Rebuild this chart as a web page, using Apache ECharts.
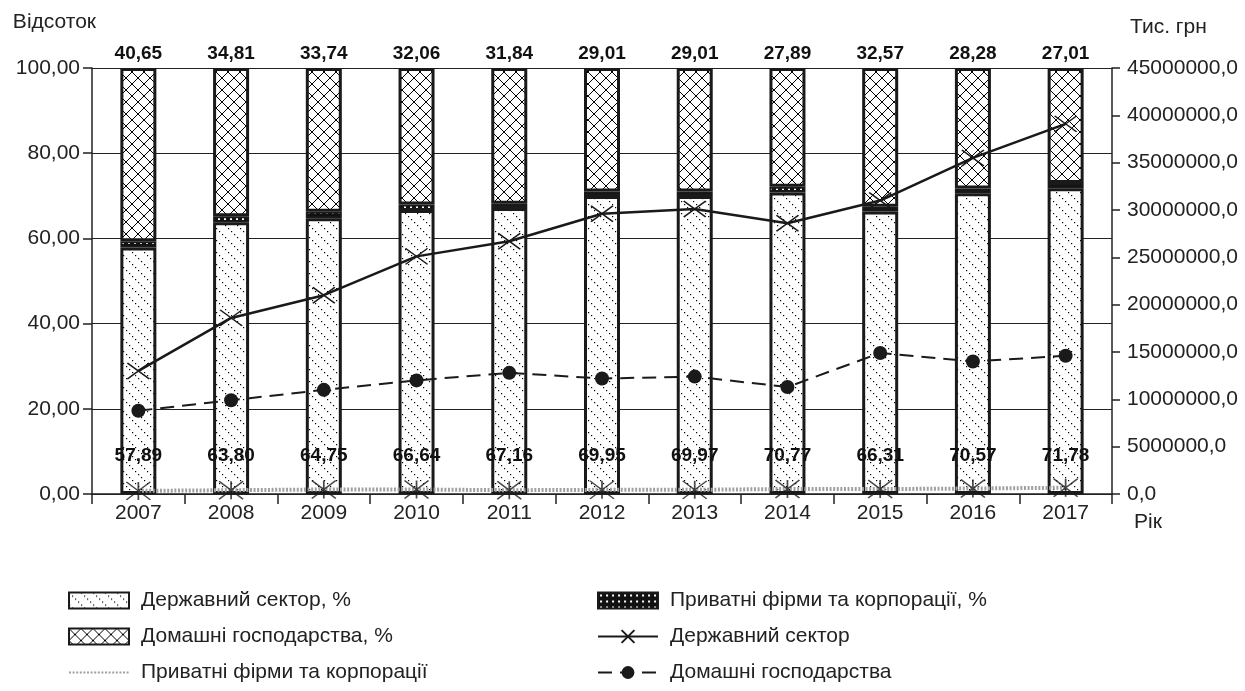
<!DOCTYPE html>
<html>
<head>
<meta charset="utf-8">
<script src="https://cdn.jsdelivr.net/npm/echarts@6/dist/echarts.min.js"></script>
<style>
  html, body { margin: 0; padding: 0; background: #fff; }
  #chart { width: 1245px; height: 691px; }
</style>
</head>
<body>
<div id="chart"></div>
<script>
// Years on the category axis
const years = ['2007', '2008', '2009', '2010', '2011', '2012', '2013', '2014', '2015', '2016', '2017'];

// Shares of R&D spending by source, %
const govShare = [57.89, 63.80, 64.75, 66.64, 67.16, 69.95, 69.97, 70.77, 66.31, 70.57, 71.78];
const privShare = [1.46, 1.39, 1.51, 1.30, 1.00, 1.04, 1.02, 1.34, 1.12, 1.15, 1.21];
const homeShare = [40.65, 34.81, 33.74, 32.06, 31.84, 29.01, 29.01, 27.89, 32.57, 28.28, 27.01];

// Spending by source, thousand UAH
const govAmount = [13000000, 18600000, 21000000, 25100000, 26700000, 29600000, 30100000, 28600000, 31000000, 35500000, 39100000];
const homeAmount = [8800000, 9900000, 11000000, 12000000, 12800000, 12200000, 12400000, 11300000, 14900000, 14000000, 14600000];
const privAmount = [330000, 400000, 480000, 480000, 400000, 440000, 440000, 530000, 520000, 580000, 660000];

const FONT = '"Liberation Sans", Arial, sans-serif';

// Fill patterns for the stacked bars
function makeTile(size, draw) {
  const c = document.createElement('canvas');
  c.width = size; c.height = size;
  const ctx = c.getContext('2d');
  ctx.fillStyle = '#fff';
  ctx.fillRect(0, 0, size, size);
  draw(ctx, size);
  return { image: c, repeat: 'repeat' };
}
// dotted diagonal lines
const dotDiag = makeTile(12, (ctx, s) => {
  ctx.fillStyle = '#000';
  for (let i = 0; i < s; i += 3) ctx.fillRect(i, i, 1.2, 1.2);
});
// diamond cross-hatch
const crossHatch = makeTile(12, (ctx, s) => {
  ctx.strokeStyle = '#000';
  ctx.lineWidth = 1;
  ctx.beginPath();
  ctx.moveTo(0, 0); ctx.lineTo(s, s);
  ctx.moveTo(s, 0); ctx.lineTo(0, s);
  ctx.stroke();
});
// black with white dots
const dotBlack = (() => {
  const c = document.createElement('canvas');
  c.width = 6; c.height = 6;
  const ctx = c.getContext('2d');
  ctx.fillStyle = '#111';
  ctx.fillRect(0, 0, 6, 6);
  ctx.fillStyle = '#fff';
  ctx.fillRect(2, 2, 2, 2);
  return { image: c, repeat: 'repeat' };
})();

const pct = v => v.toFixed(2).replace('.', ',');
const amt = v => v.toFixed(1).replace('.', ',');

const chart = echarts.init(document.getElementById('chart'), null, { renderer: 'canvas' });

const barBase = {
  type: 'bar',
  stack: 'share',
  barWidth: 36,
  xAxisIndex: 0,
  yAxisIndex: 0
};

const legendText = { fontFamily: FONT, fontSize: 21, color: '#222', padding: [0, 0, 0, 7] };

chart.setOption({
  animation: false,
  backgroundColor: '#fff',
  textStyle: { fontFamily: FONT, color: '#222' },
  grid: { left: 92, right: 133, top: 68, bottom: 197, containLabel: false },
  legend: [
    {
      orient: 'vertical', left: 68, top: 590, padding: 0,
      itemWidth: 60, itemHeight: 16, itemGap: 15,
      textStyle: legendText,
      data: [
        { name: 'Державний сектор, %', icon: 'rect' },
        { name: 'Домашні господарства, %', icon: 'rect' },
        { name: 'Приватні фірми та корпорації', itemStyle: { color: 'rgba(0,0,0,0)', borderWidth: 0 } }
      ]
    },
    {
      orient: 'vertical', left: 597, top: 590, padding: 0,
      itemWidth: 60, itemHeight: 16, itemGap: 15,
      textStyle: legendText,
      data: [
        { name: 'Приватні фірми та корпорації, %', icon: 'rect' },
        'Державний сектор',
        'Домашні господарства'
      ]
    }
  ],
  xAxis: {
    type: 'category',
    data: years,
    name: 'Рік',
    nameLocation: 'end',
    nameGap: 22,
    nameTextStyle: { fontFamily: FONT, fontSize: 21, color: '#222', verticalAlign: 'top', padding: [18, 0, 0, 0] },
    axisLine: { lineStyle: { color: '#222', width: 1.5 } },
    axisTick: { show: true, length: 10, lineStyle: { color: '#222', width: 1.5 } },
    axisLabel: { fontFamily: FONT, fontSize: 21, color: '#222', margin: 9 },
    splitLine: { show: false }
  },
  yAxis: [
    {
      type: 'value', min: 0, max: 100, interval: 20,
      name: 'Відсоток',
      nameLocation: 'end',
      nameGap: 35,
      nameTextStyle: { fontFamily: FONT, fontSize: 21, color: '#222', align: 'right', padding: [0, -4, 0, 0] },
      axisLine: { show: true, lineStyle: { color: '#222', width: 1.5 } },
      axisTick: { show: true, length: 9, lineStyle: { color: '#222', width: 1.5 } },
      axisLabel: { fontFamily: FONT, fontSize: 21, color: '#222', margin: 12, formatter: pct },
      splitLine: { show: true, lineStyle: { color: '#222', width: 1.2 } }
    },
    {
      type: 'value', min: 0, max: 45000000, interval: 5000000,
      position: 'right',
      name: 'Тис. грн',
      nameLocation: 'end',
      nameGap: 30,
      nameTextStyle: { fontFamily: FONT, fontSize: 21, color: '#222', align: 'left', padding: [0, 0, 0, 18] },
      axisLine: { show: true, lineStyle: { color: '#222', width: 1.5 } },
      axisTick: { show: true, length: 8, lineStyle: { color: '#222', width: 1.5 } },
      axisLabel: { fontFamily: FONT, fontSize: 21, color: '#222', margin: 15, formatter: amt },
      splitLine: { show: false }
    }
  ],
  series: [
    Object.assign({}, barBase, {
      name: 'Державний сектор, %',
      data: govShare,
      itemStyle: { color: dotDiag, borderColor: '#1a1a1a', borderWidth: 3 },
      label: {
        show: true, position: 'insideBottom', distance: 29,
        fontFamily: FONT, fontSize: 19, fontWeight: 'bold', color: '#111',
        formatter: p => pct(p.value)
      },
      z: 2
    }),
    Object.assign({}, barBase, {
      name: 'Приватні фірми та корпорації, %',
      data: privShare,
      itemStyle: { color: dotBlack, borderColor: '#1a1a1a', borderWidth: 2 },
      z: 2
    }),
    Object.assign({}, barBase, {
      name: 'Домашні господарства, %',
      data: homeShare,
      itemStyle: { color: crossHatch, borderColor: '#1a1a1a', borderWidth: 3 },
      label: {
        show: true, position: 'top', distance: 5,
        fontFamily: FONT, fontSize: 19, fontWeight: 'bold', color: '#111',
        formatter: p => pct(p.value)
      },
      z: 2
    }),
    {
      name: 'Державний сектор',
      type: 'line',
      yAxisIndex: 1,
      data: govAmount,
      symbol: 'path://M0,0L20,14M20,0L0,14',
      symbolSize: [22, 16],
      lineStyle: { color: '#1a1a1a', width: 2.5 },
      itemStyle: { color: '#1a1a1a', borderColor: '#1a1a1a', borderWidth: 1.5 },
      z: 5
    },
    {
      name: 'Домашні господарства',
      type: 'line',
      yAxisIndex: 1,
      data: homeAmount,
      symbol: 'circle',
      symbolSize: 14,
      lineStyle: { color: '#1a1a1a', width: 2, type: [14, 8] },
      itemStyle: { color: '#1a1a1a' },
      z: 5
    },
    {
      name: 'Приватні фірми та корпорації',
      type: 'line',
      yAxisIndex: 1,
      data: privAmount,
      symbol: 'none',
      lineStyle: { color: '#a0a0a0', width: 4, type: [2, 1.6] },
      itemStyle: { color: '#a0a0a0' },
      z: 4
    },
    {
      // asterisk markers on the private-sector line
      name: 'Приватні фірми та корпорації (маркер)',
      type: 'scatter',
      yAxisIndex: 1,
      data: privAmount,
      symbol: 'path://M0,0L24,18M24,0L0,18M12,0L12,18',
      symbolSize: [24, 18],
      itemStyle: { color: '#1a1a1a', borderColor: '#1a1a1a', borderWidth: 1.5 },
      z: 5
    }
  ]
});
</script>
</body>
</html>
